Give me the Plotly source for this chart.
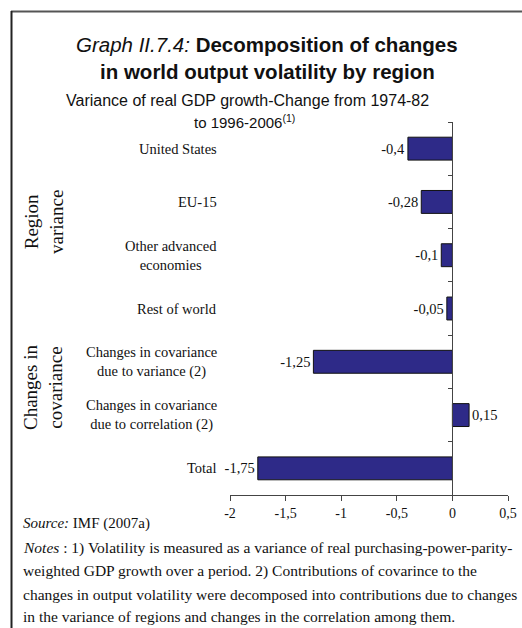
import plotly.graph_objects as go

# chart data, top to bottom
categories = ["United States", "EU-15", "Other advanced economies", "Rest of world",
              "Changes in covariance due to variance (2)",
              "Changes in covariance due to correlation (2)", "Total"]
cat_labels = ["United States", "EU-15", "Other advanced<br>economies", "Rest of world",
              "Changes in covariance<br>due to variance (2)",
              "Changes in covariance<br>due to correlation (2)", "Total"]
values = [-0.4, -0.28, -0.1, -0.05, -1.25, 0.15, -1.75]
value_labels = ["-0,4", "-0,28", "-0,1", "-0,05", "-1,25", "0,15", "-1,75"]

x_ticks = [-2, -1.5, -1, -0.5, 0, 0.5]
x_ticktext = ["-2", "-1,5", "-1", "-0,5", "0", "0,5"]

W, H = 522, 628
L, R, T, B = 230, 508, 122, 495  # plot area in pixels


def px(x):  # pixel -> paper
    return (x - L) / (R - L)


def py(y):
    return (B - y) / (B - T)


serif = "Liberation Serif, Times New Roman, serif"
sans = "Liberation Sans, Arial, sans-serif"

fig = go.Figure()
fig.add_trace(go.Bar(
    y=categories, x=values, orientation="h",
    marker=dict(color="#2e2a88", line=dict(color="#111", width=1)),
    text=value_labels, textposition="outside", cliponaxis=False,
    textfont=dict(family=serif, size=14.5, color="#111"),
))

fig.update_layout(
    width=W, height=H, autosize=False,
    margin=dict(l=L, r=W - R, t=T, b=H - B, pad=0, autoexpand=False),
    paper_bgcolor="white", plot_bgcolor="white",
    showlegend=False, bargap=0.57,
    xaxis=dict(range=[-2, 0.5], tickvals=x_ticks, ticktext=x_ticktext,
               automargin=False,
               showgrid=False, zeroline=False, showline=True, linecolor="#444",
               ticks="outside", ticklen=5, tickcolor="#444",
               tickfont=dict(family=serif, size=14, color="#111")),
    yaxis=dict(type="category", categoryorder="array", categoryarray=categories,
               autorange="reversed", anchor="free", position=0.8, automargin=False,
               showticklabels=False, showgrid=False, zeroline=False,
               showline=True, linecolor="#444", ticks="outside", ticklen=4,
               tickcolor="#444", tickson="boundaries"),
)


def note(x, y, text, size, family, xanchor="center", **kw):
    fig.add_annotation(x=px(x), y=py(y), xref="paper", yref="paper", text=text,
                       xanchor=xanchor, yanchor="middle", showarrow=False,
                       font=dict(family=family, size=size, color="#111"), **kw)


# category labels (centred multi-line, right edge near x=219)
for cat, lab in zip(categories, cat_labels):
    fig.add_annotation(x=px(219), xref="paper", y=cat, yref="y", text=lab,
                       xanchor="right", yanchor="middle", align="center", showarrow=False,
                       font=dict(family=serif, size=14.5, color="#111"))

# group labels
note(44, 222, "Region<br>variance", 19, serif, textangle=-90, align="center")
note(43, 388, "Changes in<br>covariance", 19, serif, textangle=-90, align="center")

# title and subtitle
note(267, 44, "<i>Graph II.7.4:</i> <b>Decomposition of changes</b>", 20.5, sans)
note(267, 72, "<b>in world output volatility by region</b>", 20.5, sans)
note(247, 101, "Variance of real GDP growth-Change from 1974-82", 16, sans)
note(244, 121, "to 1996-2006<sup>(1)</sup>", 15, sans)

# source and notes
notes = [
    "<i>Source:</i> IMF (2007a)",
    "<i>Notes</i> : 1) Volatility is measured as a variance of real purchasing-power-parity-",
    "weighted GDP growth over a period. 2) Contributions of covarince to the",
    "changes in output volatility were decomposed into contributions due to changes",
    "in the variance of regions and changes in the correlation among them.",
]
note_y = [523, 548, 571, 594, 616]
for line, yy in zip(notes, note_y):
    note(21, yy, line, 15.5 if yy > 530 else 15, serif, xanchor="left")

# frame lines
fig.add_shape(type="line", xref="paper", yref="paper", x0=px(11), x1=px(522),
              y0=py(11.5), y1=py(11.5), line=dict(color="#555", width=2))
fig.add_shape(type="line", xref="paper", yref="paper", x0=px(11.5), x1=px(11.5),
              y0=py(11), y1=py(628), line=dict(color="#222", width=2))

fig.write_html("out.html", config={"displayModeBar": False},
               post_script="document.body.style.margin='0';")
